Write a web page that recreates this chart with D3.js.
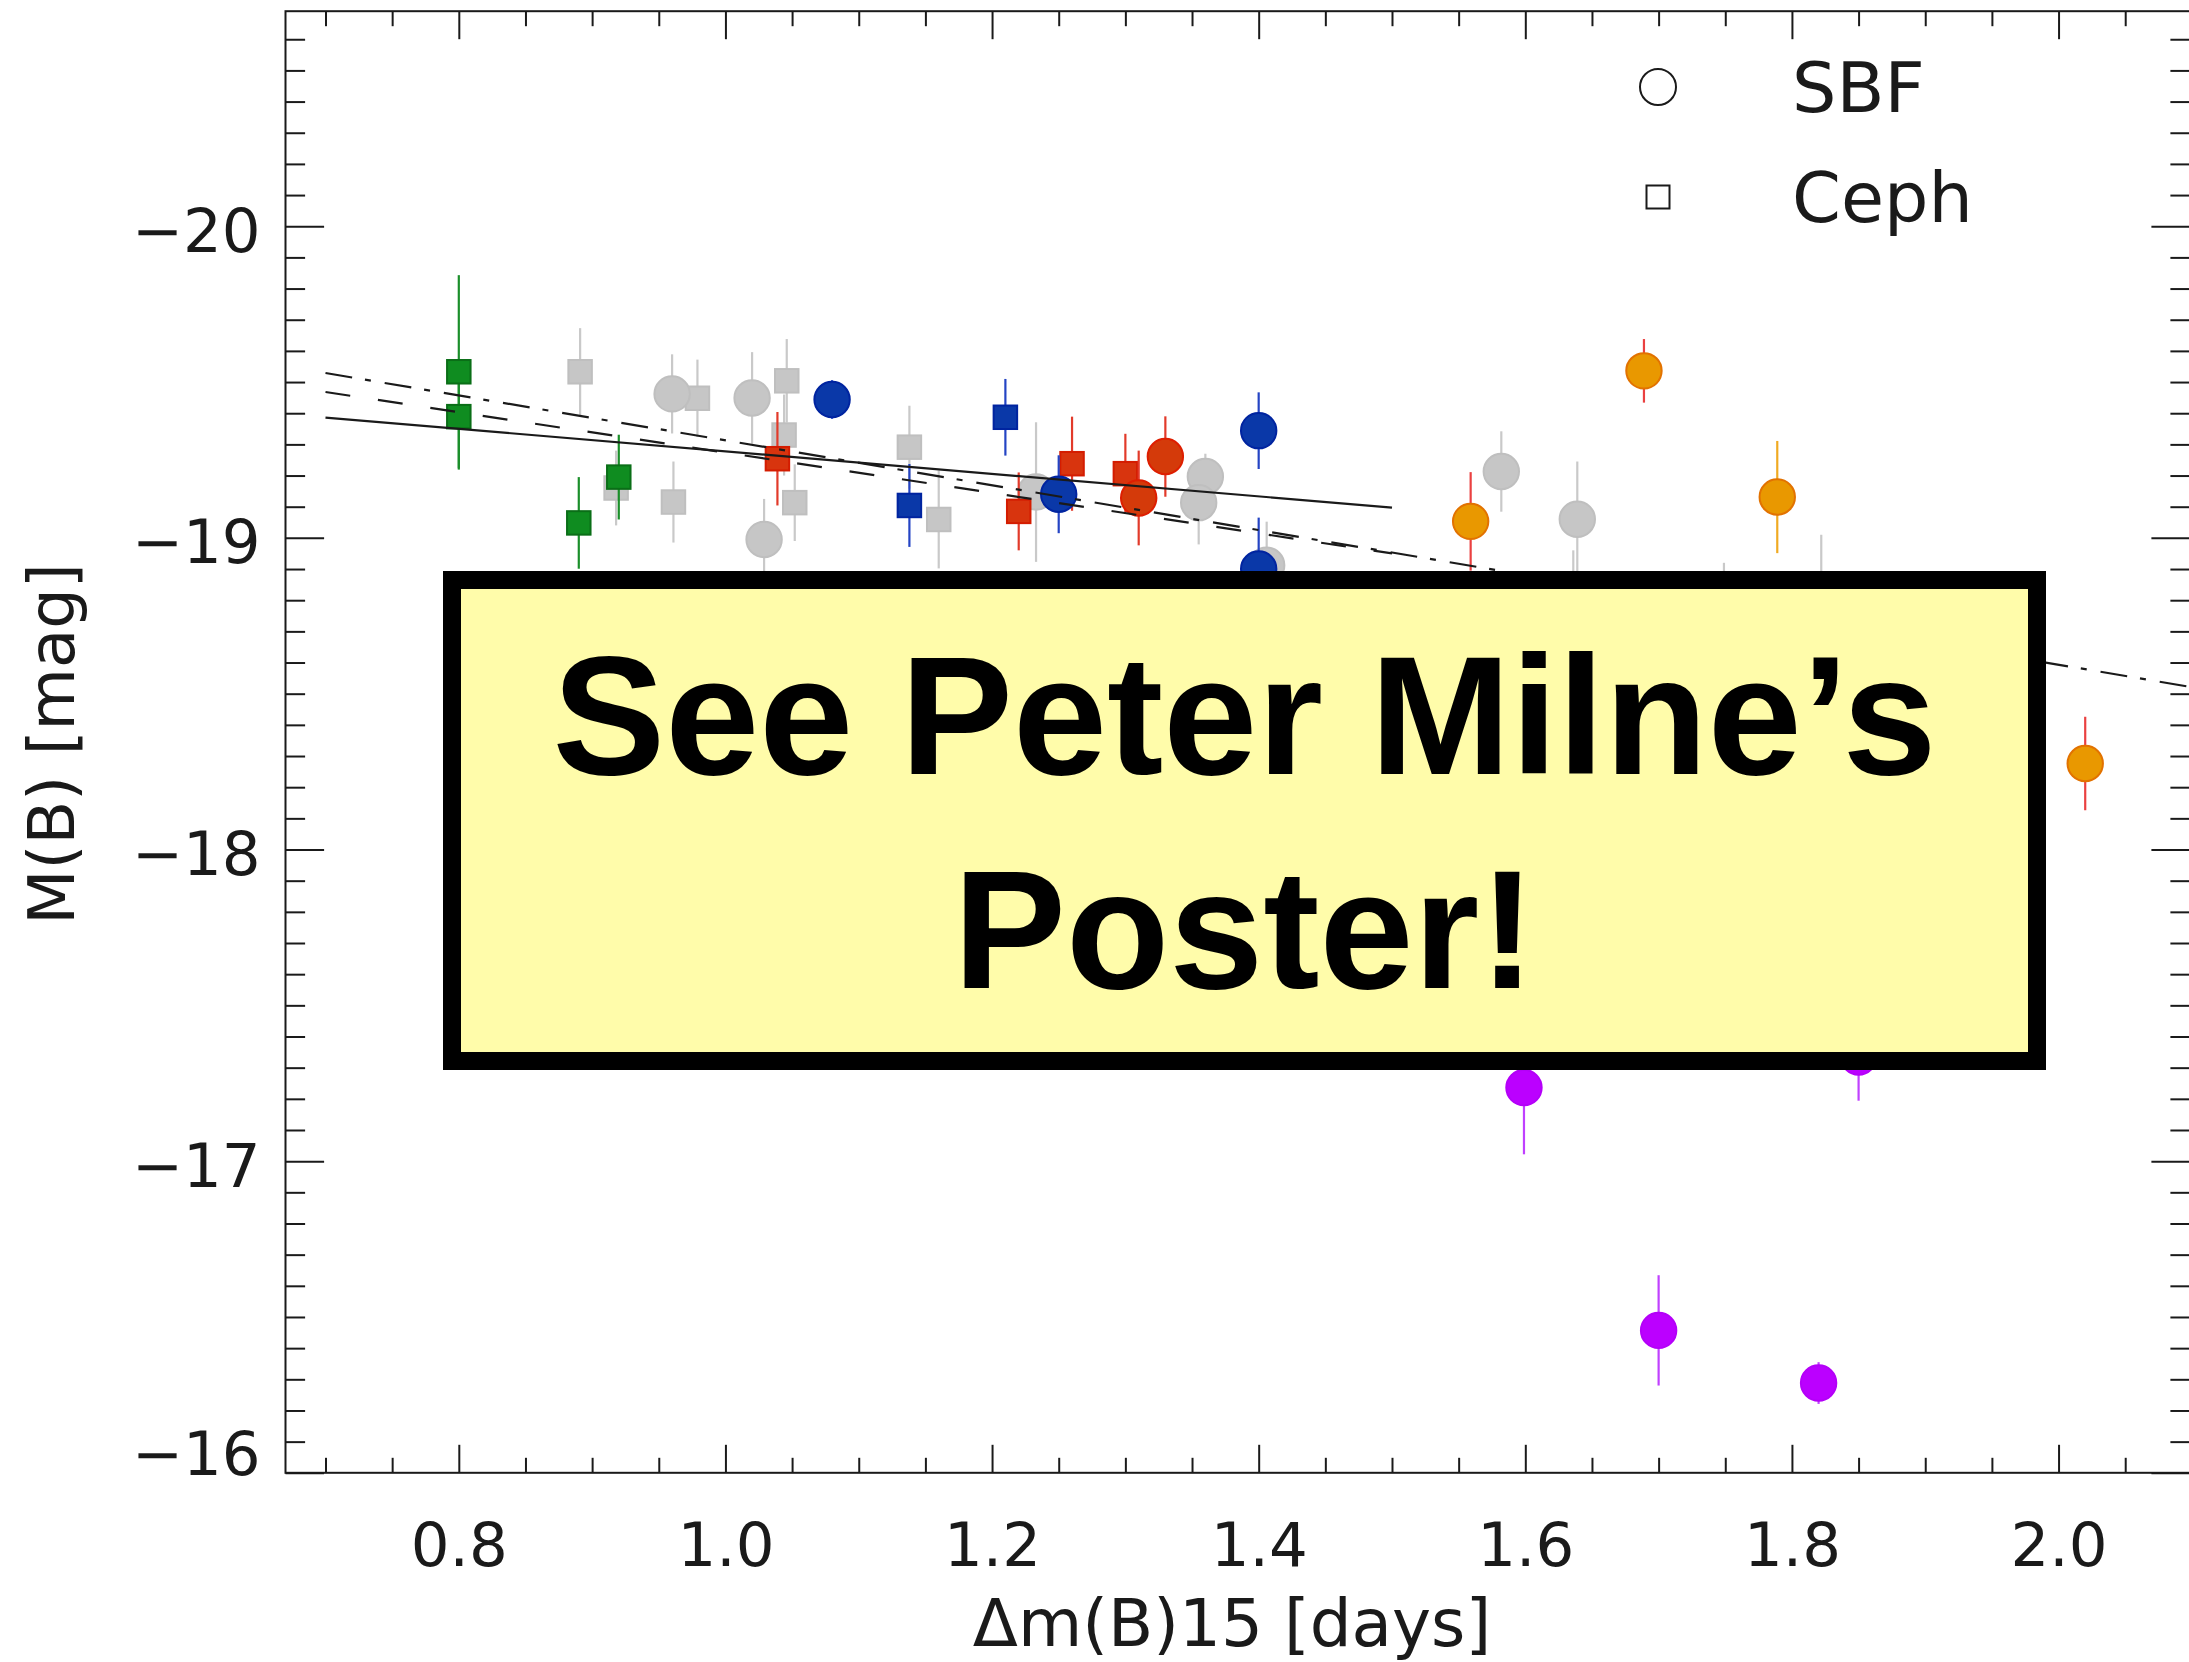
<!DOCTYPE html>
<html>
<head>
<meta charset="utf-8">
<script src="https://cdn.jsdelivr.net/npm/d3@7"></script>
<style>
  html, body { margin: 0; padding: 0; background: #fff; }
  svg { display: block; }
</style>
</head>
<body>
<div id="chart"></div>
<script>
// each point: [dm15, M_B, error]
const greySBF = [
  [0.960, -19.462, 0.127], [1.020, -19.449, 0.147], [1.029, -18.995, 0.130],
  [1.233, -19.147, 0.224], [1.360, -19.197, 0.073], [1.355, -19.113, 0.134],
  [1.406, -18.912, 0.140], [1.582, -19.213, 0.129], [1.639, -19.060, 0.185],
  [1.636, -18.750, 0.210], [1.749, -18.700, 0.220], [1.822, -18.750, 0.260]
];
const greyCeph = [
  [0.891, -19.533, 0.140], [0.979, -19.448, 0.124], [1.046, -19.504, 0.134],
  [1.044, -19.330, 0.130], [1.052, -19.113, 0.123], [0.918, -19.160, 0.120],
  [0.961, -19.115, 0.130], [1.138, -19.291, 0.133], [1.160, -19.059, 0.157]
];
const greenCeph = [
  [0.800, -19.533, 0.310], [0.800, -19.389, 0.170], [0.920, -19.195, 0.136], [0.890, -19.048, 0.147]
];
const blueCeph = [[1.138, -19.104, 0.133], [1.210, -19.387, 0.123]];
const redCeph = [
  [1.039, -19.254, 0.150], [1.220, -19.085, 0.125], [1.260, -19.238, 0.151], [1.300, -19.206, 0.128]
];
const blueSBF = [
  [1.080, -19.444, 0.062], [1.250, -19.140, 0.125], [1.400, -19.344, 0.123], [1.400, -18.900, 0.165]
];
const redSBF = [[1.310, -19.128, 0.152], [1.330, -19.261, 0.129]];
const orangeSBF = [[1.559, -19.053, 0.158], [1.689, -19.536, 0.102], [2.020, -18.276, 0.150]];
const orangeSBF2 = [[1.789, -19.131, 0.180]];
const purpleSBF = [
  [1.599, -17.236, 0.214], [1.700, -16.457, 0.177], [1.820, -16.288, 0.067], [1.850, -17.334, 0.140]
];

// fit lines as [dm15, M_B] end points
const fitSolid = [[0.70, -19.386], [1.50, -19.097]];
const fitDashed = [[0.70, -19.468], [1.50, -18.950]];
const fitDashDot = [[0.70, -19.529], [2.10, -18.521]];

const xMajorTicks = [0.8, 1.0, 1.2, 1.4, 1.6, 1.8, 2.0];
const yMajorTicks = [-20, -19, -18, -17, -16];
const legendItems = ['SBF', 'Ceph'];
const bannerLines = ['See Peter Milne’s', 'Poster!'];

const width = 2189, height = 1662;
const plot = { left: 285.5, right: 2190, top: 11.2, bottom: 1472.8 };
const axisFont = '"DejaVu Sans", sans-serif';
const ink = '#1a1a1a';

const svg = d3.select('#chart').append('svg')
  .attr('width', width)
  .attr('height', height);

const x = d3.scaleLinear().domain([0.67, 2.0986]).range([plot.left, plot.right]);
const y = d3.scaleLinear().domain([-20.69, -16.0]).range([plot.top, plot.bottom]);

const xMinor = d3.range(14, 42).filter(i => i % 4 !== 0).map(i => i * 0.05);
const yMinor = d3.range(-206, -160).filter(i => i % 10 !== 0).map(i => i / 10);

function cleanAxis(g) {
  g.select('.domain').remove();
  g.selectAll('.tick line').attr('stroke', ink).attr('stroke-width', 2);
  g.attr('font-family', axisFont).attr('font-size', 61).attr('color', ink);
}

// bottom / top
svg.append('g').attr('transform', `translate(0,${plot.bottom})`)
  .call(d3.axisBottom(x).tickValues(xMajorTicks).tickSize(-28).tickSizeOuter(0)
    .tickPadding(49.5).tickFormat(d3.format('.1f')))
  .call(cleanAxis);
svg.append('g').attr('transform', `translate(0,${plot.bottom})`)
  .call(d3.axisBottom(x).tickValues(xMinor).tickSize(-15).tickSizeOuter(0).tickFormat(''))
  .call(cleanAxis);
svg.append('g').attr('transform', `translate(0,${plot.top})`)
  .call(d3.axisTop(x).tickValues(xMajorTicks).tickSize(-28).tickSizeOuter(0).tickFormat(''))
  .call(cleanAxis);
svg.append('g').attr('transform', `translate(0,${plot.top})`)
  .call(d3.axisTop(x).tickValues(xMinor).tickSize(-15).tickSizeOuter(0).tickFormat(''))
  .call(cleanAxis);

// left / right
const yAxisG = svg.append('g').attr('transform', `translate(${plot.left},0)`)
  .call(d3.axisLeft(y).tickValues(yMajorTicks).tickSize(-38.6).tickSizeOuter(0)
    .tickPadding(25).tickFormat(d3.format('d')))
  .call(cleanAxis);
yAxisG.selectAll('.tick text').attr('dy', d => d === -16 ? '0.02em' : '0.41em');
svg.append('g').attr('transform', `translate(${plot.left},0)`)
  .call(d3.axisLeft(y).tickValues(yMinor).tickSize(-19.6).tickSizeOuter(0).tickFormat(''))
  .call(cleanAxis);
svg.append('g').attr('transform', `translate(${plot.right},0)`)
  .call(d3.axisRight(y).tickValues(yMajorTicks).tickSize(-38.6).tickSizeOuter(0).tickFormat(''))
  .call(cleanAxis);
svg.append('g').attr('transform', `translate(${plot.right},0)`)
  .call(d3.axisRight(y).tickValues(yMinor).tickSize(-19.6).tickSizeOuter(0).tickFormat(''))
  .call(cleanAxis);

svg.append('rect')
  .attr('x', plot.left).attr('y', plot.top)
  .attr('width', plot.right - plot.left).attr('height', plot.bottom - plot.top)
  .attr('fill', 'none').attr('stroke', ink).attr('stroke-width', 2);

// axis titles
svg.append('text')
  .attr('x', 1232).attr('y', 1646)
  .attr('text-anchor', 'middle')
  .attr('font-family', axisFont).attr('font-size', 66).attr('fill', ink)
  .text('Δm(B)15 [days]');
svg.append('text')
  .attr('transform', 'translate(74,744) rotate(-90)')
  .attr('text-anchor', 'middle')
  .attr('font-family', axisFont).attr('font-size', 64).attr('fill', ink)
  .text('M(B) [mag]');

// points
const R = 17.7, S = 23.5;
function drawGroup(data, shape, style) {
  const g = svg.append('g');
  g.selectAll('line.err')
    .data(data)
    .enter()
    .append('line')
    .attr('x1', d => x(d[0])).attr('x2', d => x(d[0]))
    .attr('y1', d => y(d[1] - d[2])).attr('y2', d => y(d[1] + d[2]))
    .attr('stroke', style.bar).attr('stroke-width', 2.2);
  if (shape === 'circle') {
    g.selectAll('circle')
      .data(data)
      .enter()
      .append('circle')
      .attr('cx', d => x(d[0])).attr('cy', d => y(d[1]))
      .attr('r', R)
      .attr('fill', style.fill).attr('stroke', style.stroke).attr('stroke-width', 2);
  } else {
    g.selectAll('rect')
      .data(data)
      .enter()
      .append('rect')
      .attr('x', d => x(d[0]) - S / 2).attr('y', d => y(d[1]) - S / 2)
      .attr('width', S).attr('height', S)
      .attr('fill', style.fill).attr('stroke', style.stroke).attr('stroke-width', 2);
  }
}

const grey = { fill: '#c6c6c6', stroke: '#bfbfbf', bar: '#c9c9c9' };
drawGroup(greyCeph, 'square', grey);
drawGroup(greySBF, 'circle', grey);
drawGroup(greenCeph, 'square', { fill: '#0f8c20', stroke: '#0a6e17', bar: '#1b8f2a' });
drawGroup(blueCeph, 'square', { fill: '#0a38a8', stroke: '#0024a0', bar: '#2444c4' });
drawGroup(redCeph, 'square', { fill: '#d8340e', stroke: '#d41c00', bar: '#e23a2a' });
drawGroup(blueSBF, 'circle', { fill: '#0a38a8', stroke: '#0024a0', bar: '#2444c4' });
drawGroup(redSBF, 'circle', { fill: '#d43a0a', stroke: '#de1e00', bar: '#e23a2a' });
drawGroup(orangeSBF, 'circle', { fill: '#e99800', stroke: '#e27200', bar: '#ea4040' });
drawGroup(orangeSBF2, 'circle', { fill: '#e99800', stroke: '#e27200', bar: '#f0aa22' });
drawGroup(purpleSBF, 'circle', { fill: '#bb00ff', stroke: '#b400f8', bar: '#c040ff' });

// fits
const line = d3.line().x(d => x(d[0])).y(d => y(d[1]));
svg.append('clipPath').attr('id', 'plotClip')
  .append('rect')
  .attr('x', plot.left).attr('y', plot.top)
  .attr('width', plot.right - plot.left).attr('height', plot.bottom - plot.top);
const fits = svg.append('g').attr('clip-path', 'url(#plotClip)');
fits.append('path').datum(fitSolid)
  .attr('d', line).attr('fill', 'none').attr('stroke', ink).attr('stroke-width', 2.2);
fits.append('path').datum(fitDashed)
  .attr('d', line).attr('fill', 'none').attr('stroke', ink).attr('stroke-width', 2.2)
  .attr('stroke-dasharray', '25 28');
fits.append('path').datum(fitDashDot)
  .attr('d', line).attr('fill', 'none').attr('stroke', ink).attr('stroke-width', 2.2)
  .attr('stroke-dasharray', '27 13 6 14');

// legend
const legend = svg.append('g');
legend.append('circle')
  .attr('cx', 1658).attr('cy', 87).attr('r', 18)
  .attr('fill', 'none').attr('stroke', ink).attr('stroke-width', 2);
legend.append('rect')
  .attr('x', 1658 - 11.5).attr('y', 197 - 11.5).attr('width', 23).attr('height', 23)
  .attr('fill', 'none').attr('stroke', ink).attr('stroke-width', 2);
legend.selectAll('text')
  .data(legendItems)
  .enter()
  .append('text')
  .attr('x', 1792).attr('y', (d, i) => 111.6 + i * 110)
  .attr('font-family', axisFont).attr('font-size', 70).attr('fill', ink)
  .text(d => d);

// banner
svg.append('rect')
  .attr('x', 452).attr('y', 580).attr('width', 1585).attr('height', 481)
  .attr('fill', '#fffcaa').attr('stroke', '#000').attr('stroke-width', 18);
svg.selectAll('text.banner')
  .data(bannerLines)
  .enter()
  .append('text')
  .attr('class', 'banner')
  .attr('x', 1244.5).attr('y', (d, i) => 774 + i * 214)
  .attr('text-anchor', 'middle')
  .attr('font-family', '"Liberation Sans", Arial, sans-serif')
  .attr('font-weight', 'bold').attr('font-size', 169).attr('fill', '#000')
  .text(d => d);
</script>
</body>
</html>
